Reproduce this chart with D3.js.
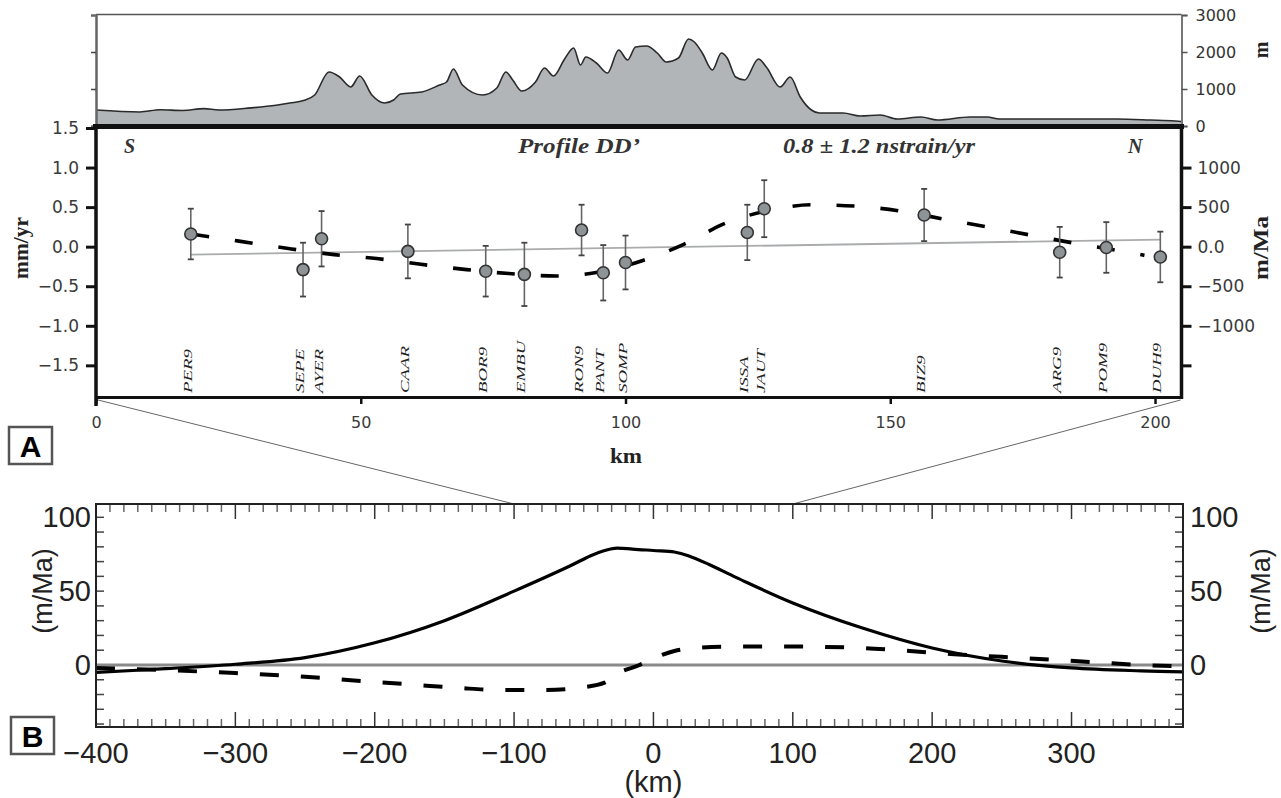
<!DOCTYPE html>
<html><head><meta charset="utf-8">
<script src="https://cdn.jsdelivr.net/npm/d3@7"></script>
<style>body{margin:0;background:#fff;} svg{display:block;}</style>
</head><body><svg id="c" width="1281" height="798"></svg>
<script>
// ---------- DATA ----------
// Topography along profile (km, metres)
const topoKm = [0, 8.3, 12.1, 16.4, 20.4, 23.2, 29.2, 34.0, 36.6, 39.2, 41.3, 44.0, 46.0, 48.1, 49.8, 52.1, 54.5, 56.2, 57.5, 61.5, 64.9, 66.2, 67.5, 69.2, 73.0, 75.7, 77.4, 78.7, 80.4, 83.0, 84.7, 86.4, 88.5, 90.2, 91.5, 92.5, 94.5, 96.6, 98.7, 100.4, 101.9, 104.0, 106.0, 107.7, 110.0, 111.9, 113.0, 114.5, 116.4, 118.1, 119.2, 120.8, 122.5, 125.1, 126.6, 129.2, 131.1, 133.0, 135.1, 136.6, 141.1, 144.3, 148.1, 151.3, 155.8, 158.9, 165.1, 168.3, 170.6, 179.8, 186.8, 192.8, 199.1, 203.8, 205];
const topoElev = [432, 380, 440, 420, 470, 432, 490, 560, 620, 690, 838, 1459, 1324, 1054, 1351, 838, 622, 703, 865, 919, 1108, 1189, 1541, 1108, 838, 1027, 1459, 1243, 946, 1189, 1568, 1351, 1811, 2108, 1649, 1865, 1703, 1432, 2054, 1784, 2135, 2162, 1973, 1730, 1838, 2351, 2270, 1973, 1514, 1973, 1838, 1324, 1243, 1811, 1595, 1054, 1324, 784, 432, 351, 351, 270, 297, 189, 243, 162, 243, 243, 189, 189, 189, 189, 162, 135, 120];
const topoTicks = [0, 1000, 2000, 3000];

// GPS stations: vertical velocity (mm/yr) and 1-sigma
const stations = ["PER9","SEPE","AYER","CAAR","BOR9","EMBU","RON9","PANT","SOMP","ISSA","JAUT","BIZ9","ARG9","POM9","DUH9"];
const stationKm = [17.9, 39.1, 42.6, 58.9, 73.6, 80.9, 91.7, 95.8, 100.0, 123.0, 126.2, 156.4, 182.0, 190.8, 201.0];
const velocity = [0.16, -0.29, 0.10, -0.06, -0.31, -0.35, 0.21, -0.33, -0.20, 0.18, 0.48, 0.40, -0.07, -0.01, -0.13];
const velocityErr = [0.32, 0.34, 0.35, 0.34, 0.32, 0.40, 0.32, 0.35, 0.34, 0.35, 0.36, 0.33, 0.32, 0.32, 0.32];

// Linear fit (grey line)
const fitKm = [17.9, 201.0];
const fitVal = [-0.10, 0.09];

// Model uplift (dashed) along profile A
const modelKm = [18, 27, 36, 45, 53, 61, 70, 78, 87, 95, 103, 111, 119, 128, 135, 144, 152, 160, 169, 177, 186, 194, 198];
const modelVal = [0.16, 0.07, -0.02, -0.10, -0.15, -0.22, -0.29, -0.34, -0.37, -0.32, -0.18, 0.03, 0.30, 0.47, 0.53, 0.51, 0.45, 0.35, 0.24, 0.14, 0.03, -0.06, -0.11];

const leftTicksA = [-1.5, -1.0, -0.5, 0.0, 0.5, 1.0, 1.5];
const rightTicksA = [-1500, -1000, -500, 0, 500, 1000];
const bottomTicksA = [0, 50, 100, 150, 200];

// Panel B curves (km, m/Ma)
const bSolidKm = [-400, -350, -300, -250, -200, -150, -100, -60, -45, -35, -28, -15, 0, 15, 25, 40, 60, 100, 150, 200, 250, 300, 350, 380];
const bSolidVal = [-5, -2.5, 0.5, 5, 15, 30, 50, 67, 74, 77.5, 79, 78.5, 77.5, 76.5, 74, 68, 59, 42, 25, 11.5, 2.7, -2, -4, -4.7];
const bDashKm = [-400, -350, -300, -250, -200, -170, -140, -110, -80, -50, -35, -25, -10, 0, 15, 30, 60, 90, 120, 150, 175, 213, 250, 290, 320, 350, 380];
const bDashVal = [-2, -3.5, -5.5, -8, -11.5, -13.5, -15.5, -17, -17, -15, -12, -5.5, 0, 4.5, 9.5, 11.5, 12.5, 12.5, 12.3, 11.5, 10, 7.5, 5.5, 3.4, 1.6, 0, -1];
const bXTicks = [-400, -300, -200, -100, 0, 100, 200, 300];
const bYTicks = [0, 50, 100];
const zoomWindowKm = [-100, 100];

// ---------- DRAW ----------
const svg = d3.select("#c");
const xA = d3.scaleLinear().domain([0, 205]).range([96, 1181.5]);
const yTopo = d3.scaleLinear().domain([0, 3000]).range([126, 15]);
const yA = d3.scaleLinear().domain([-1.9, 1.5]).range([397, 128]);
const yAR = d3.scaleLinear().domain([-1900, 1500]).range([397, 128]);
const xB = d3.scaleLinear().domain([-400, 380]).range([96, 1183]);
const yB = d3.scaleLinear().domain([-42, 109]).range([727, 504]);

const numFont = "'DejaVu Sans', sans-serif";
const serif = "'Liberation Serif', 'Times New Roman', serif";
const sans = "'Liberation Sans', Arial, sans-serif";

// --- topography panel ---
const topoData = topoKm.map((k, i) => [k, topoElev[i]]);
svg.append("path").datum(topoData)
  .attr("d", d3.area().x(d => xA(d[0])).y0(yTopo(0)).y1(d => yTopo(d[1])).curve(d3.curveMonotoneX))
  .attr("fill", "#b2b5b7");
svg.append("path").datum(topoData)
  .attr("d", d3.line().x(d => xA(d[0])).y(d => yTopo(d[1])).curve(d3.curveMonotoneX))
  .attr("fill", "none").attr("stroke", "#2a2a2a").attr("stroke-width", 1.6);
// frame
svg.append("line").attr("x1", xA(0)).attr("x2", xA(205)).attr("y1", yTopo(3000) - 0.5).attr("y2", yTopo(3000) - 0.5)
  .attr("stroke", "#555").attr("stroke-width", 1.5);
const gTL = svg.append("g").attr("transform", `translate(${xA(0)},0)`)
  .call(d3.axisLeft(yTopo).tickValues([1000, 2000]).tickFormat("").tickSize(5));
gTL.select(".domain").attr("stroke", "#666").attr("stroke-width", 2.5);
gTL.selectAll(".tick line").attr("stroke", "#444").attr("stroke-width", 1.5);
const gTR = svg.append("g").attr("transform", `translate(${xA(205)},0)`)
  .call(d3.axisRight(yTopo).tickValues(topoTicks).tickFormat(d3.format("d")).tickSize(6).tickPadding(8));
gTR.select(".domain").attr("stroke", "#777").attr("stroke-width", 2);
gTR.selectAll(".tick line").attr("stroke", "#555").attr("stroke-width", 1.5);
gTR.selectAll(".tick text").attr("font-family", numFont).attr("font-size", 16).attr("fill", "#333");
svg.append("text").attr("transform", `translate(1268,50) rotate(-90)`).attr("text-anchor", "middle")
  .attr("font-family", serif).attr("font-weight", "bold").attr("font-size", 20).attr("fill", "#222").text("m");

// --- panel A ---
svg.append("line").attr("x1", xA(fitKm[0])).attr("y1", yA(fitVal[0])).attr("x2", xA(fitKm[1])).attr("y2", yA(fitVal[1]))
  .attr("stroke", "#a9abad").attr("stroke-width", 1.8);
svg.append("path").datum(modelKm.map((k, i) => [k, modelVal[i]]))
  .attr("d", d3.line().x(d => xA(d[0])).y(d => yA(d[1])).curve(d3.curveMonotoneX))
  .attr("fill", "none").attr("stroke", "#000").attr("stroke-width", 3.6).attr("stroke-dasharray", "18,26");
const st = svg.append("g").selectAll("g").data(stations).join("g");
st.append("line").attr("x1", (d, i) => xA(stationKm[i])).attr("x2", (d, i) => xA(stationKm[i]))
  .attr("y1", (d, i) => yA(velocity[i] + velocityErr[i])).attr("y2", (d, i) => yA(velocity[i] - velocityErr[i]))
  .attr("stroke", "#666").attr("stroke-width", 1.6);
[1, -1].forEach(s => {
  st.append("line").attr("x1", (d, i) => xA(stationKm[i]) - 3).attr("x2", (d, i) => xA(stationKm[i]) + 3)
    .attr("y1", (d, i) => yA(velocity[i] + s * velocityErr[i])).attr("y2", (d, i) => yA(velocity[i] + s * velocityErr[i]))
    .attr("stroke", "#444").attr("stroke-width", 1.8);
});
st.append("circle").attr("cx", (d, i) => xA(stationKm[i])).attr("cy", (d, i) => yA(velocity[i])).attr("r", 6)
  .attr("fill", "#8e9396").attr("stroke", "#333").attr("stroke-width", 1.6);
st.append("text").attr("transform", (d, i) => `translate(${xA(stationKm[i]) + 1},393) rotate(-90) scale(1.45,1)`)
  .attr("font-family", serif).attr("font-style", "italic").attr("font-size", 13).attr("fill", "#222").text(d => d);

// frame / axes of A
svg.append("line").attr("x1", 93).attr("x2", 1184).attr("y1", 126.5).attr("y2", 126.5).attr("stroke", "#111").attr("stroke-width", 5);
const gAL = svg.append("g").attr("transform", `translate(${xA(0)},0)`)
  .call(d3.axisLeft(yA).tickValues(leftTicksA).tickFormat(d3.format(".1f")).tickSize(10).tickPadding(7));
gAL.select(".domain").remove();
gAL.selectAll(".tick line").attr("stroke", "#111").attr("stroke-width", 3);
gAL.selectAll(".tick text").attr("font-family", numFont).attr("font-size", 17).attr("fill", "#3a3a3a");
svg.append("line").attr("x1", xA(0)).attr("x2", xA(0)).attr("y1", 126).attr("y2", 406).attr("stroke", "#111").attr("stroke-width", 3.5);
const gAR = svg.append("g").attr("transform", `translate(${xA(205)},0)`)
  .call(d3.axisRight(yAR).tickValues(rightTicksA).tickFormat(d => d === 0 ? "0.0" : (d === -1500 ? "" : d3.format("d")(d))).tickSize(10).tickPadding(6));
gAR.select(".domain").remove();
gAR.selectAll(".tick line").attr("stroke", "#111").attr("stroke-width", 3);
gAR.selectAll(".tick text").attr("font-family", numFont).attr("font-size", 17).attr("fill", "#3a3a3a");
svg.append("line").attr("x1", xA(205)).attr("x2", xA(205)).attr("y1", 126).attr("y2", 399).attr("stroke", "#111").attr("stroke-width", 3.5);
svg.append("line").attr("x1", xA(0)).attr("x2", xA(205) + 1.5).attr("y1", 397.5).attr("y2", 397.5).attr("stroke", "#111").attr("stroke-width", 3);
const gAB = svg.append("g").attr("transform", `translate(0,397)`)
  .call(d3.axisBottom(xA).tickValues(bottomTicksA).tickFormat(d3.format("d")).tickSize(7).tickPadding(13));
gAB.select(".domain").remove();
gAB.selectAll(".tick line").attr("stroke", "#111").attr("stroke-width", 2.5);
gAB.selectAll(".tick text").attr("font-family", numFont).attr("font-size", 16).attr("fill", "#3a3a3a");

// labels A
svg.append("text").attr("transform", "translate(28,248) rotate(-90)").attr("text-anchor", "middle")
  .attr("font-family", serif).attr("font-weight", "bold").attr("font-size", 20).attr("fill", "#222")
  .attr("textLength", 62).attr("lengthAdjust", "spacingAndGlyphs").text("mm/yr");
svg.append("text").attr("transform", "translate(1268,248) rotate(-90)").attr("text-anchor", "middle")
  .attr("font-family", serif).attr("font-weight", "bold").attr("font-size", 20).attr("fill", "#222")
  .attr("textLength", 64).attr("lengthAdjust", "spacingAndGlyphs").text("m/Ma");
svg.append("text").attr("x", 626).attr("y", 463).attr("text-anchor", "middle")
  .attr("font-family", serif).attr("font-weight", "bold").attr("font-size", 20).attr("fill", "#222")
  .attr("textLength", 32).attr("lengthAdjust", "spacingAndGlyphs").text("km");
const bi = (x, y, t, anchor, len) => {
  const s = svg.append("text").attr("x", x).attr("y", y).attr("text-anchor", anchor)
    .attr("font-family", serif).attr("font-weight", "bold").attr("font-style", "italic").attr("font-size", 20).attr("fill", "#333").text(t);
  if (len) s.attr("textLength", len).attr("lengthAdjust", "spacingAndGlyphs");
};
bi(124, 153, "S", "start");
bi(518, 153, "Profile DD’", "start", 122);
bi(783, 153, "0.8 ± 1.2 nstrain/yr", "start", 192);
bi(1128, 153, "N", "start");

// connector lines
svg.append("line").attr("x1", xA(0) + 2).attr("y1", 400).attr("x2", xB(zoomWindowKm[0])).attr("y2", 504).attr("stroke", "#666").attr("stroke-width", 1);
svg.append("line").attr("x1", xA(205) - 1).attr("y1", 400).attr("x2", xB(zoomWindowKm[1])).attr("y2", 504).attr("stroke", "#666").attr("stroke-width", 1);

// box labels
const boxLabel = (x, y, t) => {
  svg.append("rect").attr("x", x).attr("y", y).attr("width", 43).attr("height", 37).attr("fill", "#fff").attr("stroke", "#555").attr("stroke-width", 2.5);
  svg.append("text").attr("x", x + 21.5).attr("y", y + 30).attr("text-anchor", "middle")
    .attr("font-family", sans).attr("font-weight", "bold").attr("font-size", 30).attr("fill", "#000").text(t);
};
boxLabel(9, 427, "A");
boxLabel(11, 717, "B");

// --- panel B ---
const gB = svg.append("g");
d3.range(-400, 381, 10).forEach(k => {
  const major = k % 100 === 0;
  const L = major ? 15 : 8;
  gB.append("line").attr("x1", xB(k)).attr("x2", xB(k)).attr("y1", 727).attr("y2", 727 - L).attr("stroke", major ? "#333" : "#666").attr("stroke-width", 1.5);
  gB.append("line").attr("x1", xB(k)).attr("x2", xB(k)).attr("y1", 504).attr("y2", 504 + L).attr("stroke", major ? "#333" : "#666").attr("stroke-width", 1.5);
});
d3.range(-40, 101, 10).forEach(v => {
  gB.append("line").attr("x1", 96).attr("x2", 104).attr("y1", yB(v)).attr("y2", yB(v)).attr("stroke", "#444").attr("stroke-width", 1.5);
  gB.append("line").attr("x1", 1183).attr("x2", 1175).attr("y1", yB(v)).attr("y2", yB(v)).attr("stroke", "#444").attr("stroke-width", 1.5);
});
gB.append("line").attr("x1", 96).attr("x2", 1183).attr("y1", yB(0)).attr("y2", yB(0)).attr("stroke", "#8a8a8a").attr("stroke-width", 3);
gB.append("path").datum(bSolidKm.map((k, i) => [k, bSolidVal[i]]))
  .attr("d", d3.line().x(d => xB(d[0])).y(d => yB(d[1])).curve(d3.curveCatmullRom))
  .attr("fill", "none").attr("stroke", "#000").attr("stroke-width", 3.2);
gB.append("path").datum(bDashKm.map((k, i) => [k, bDashVal[i]]))
  .attr("d", d3.line().x(d => xB(d[0])).y(d => yB(d[1])).curve(d3.curveMonotoneX))
  .attr("fill", "none").attr("stroke", "#000").attr("stroke-width", 4).attr("stroke-dasharray", "19,22");
gB.append("rect").attr("x", 96).attr("y", 504).attr("width", 1087).attr("height", 223).attr("fill", "none").attr("stroke", "#222").attr("stroke-width", 2);
bXTicks.forEach(k => {
  gB.append("text").attr("x", xB(k)).attr("y", 763).attr("text-anchor", "middle")
    .attr("font-family", sans).attr("font-size", 29).attr("fill", "#222").text(d3.format("d")(k));
});
bYTicks.forEach(v => {
  gB.append("text").attr("x", 91).attr("y", yB(v) + 10).attr("text-anchor", "end")
    .attr("font-family", sans).attr("font-size", 29).attr("fill", "#222").text(v);
  gB.append("text").attr("x", 1190).attr("y", yB(v) + 10).attr("text-anchor", "start")
    .attr("font-family", sans).attr("font-size", 29).attr("fill", "#222").text(v);
});
gB.append("text").attr("transform", "translate(52,591) rotate(-90)").attr("text-anchor", "middle")
  .attr("font-family", sans).attr("font-size", 27).attr("fill", "#222").text("(m/Ma)");
gB.append("text").attr("transform", "translate(1270,591) rotate(-90)").attr("text-anchor", "middle")
  .attr("font-family", sans).attr("font-size", 27).attr("fill", "#222").text("(m/Ma)");
gB.append("text").attr("x", xB(0)).attr("y", 792).attr("text-anchor", "middle")
  .attr("font-family", sans).attr("font-size", 29).attr("fill", "#222").text("(km)");
</script></body></html>
